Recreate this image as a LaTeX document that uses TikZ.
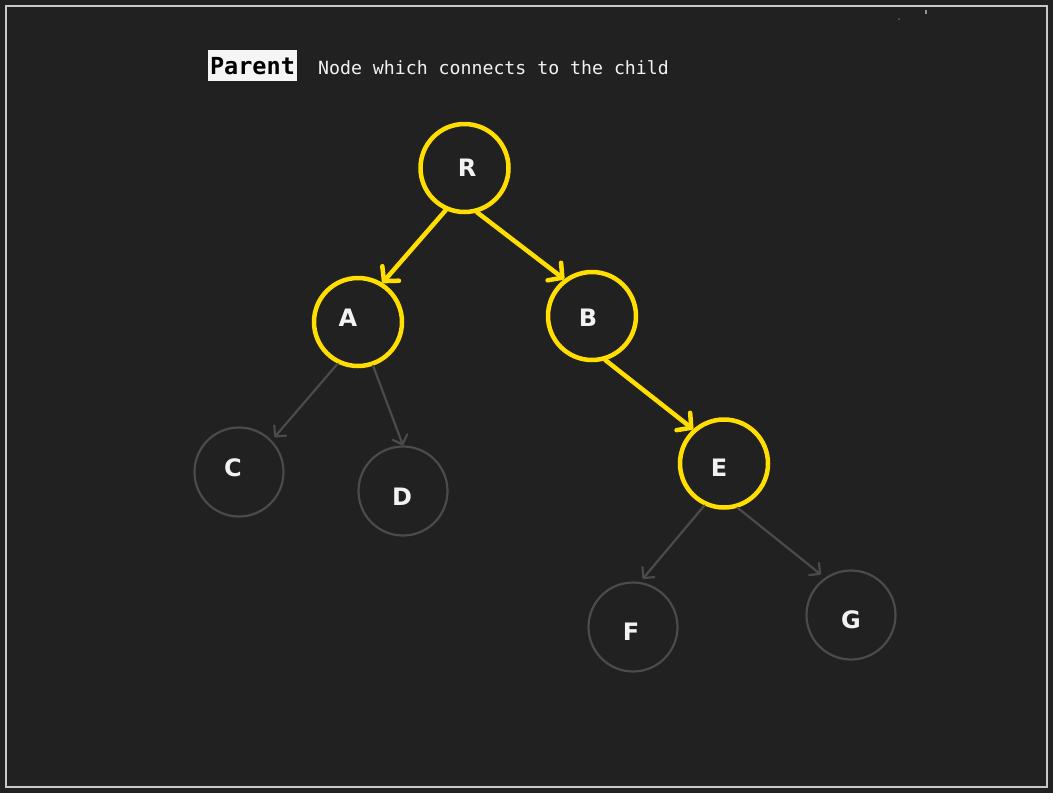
\documentclass[tikz,border=0pt]{standalone}
\usepackage{fontspec}
\newfontfamily\lblfont{DejaVu Sans}
\newfontfamily\monofont{DejaVu Sans Mono}
\usetikzlibrary{arrows.meta}
\definecolor{bgc}{HTML}{212121}
\definecolor{ylw}{HTML}{FFDE00}
\definecolor{gry}{HTML}{4B4B4B}
\definecolor{frm}{HTML}{C8C8C8}
\definecolor{txtc}{HTML}{F2F2F2}
\tikzset{
  hot/.style={circle, draw=ylw, line width=4.5pt, minimum size=88pt, inner sep=0pt},
  cold/.style={circle, draw=gry, line width=2.2pt, minimum size=89pt, inner sep=0pt},
  lbl/.style={text=txtc, font={\lblfont\bfseries\fontsize{24}{28}\selectfont}, inner sep=0pt},
  yarrow/.style={draw=ylw, line width=4.5pt, line cap=round, -{Straight Barb[angle=95:15pt,line cap=round,line join=round]}},
  garrow/.style={draw=gry, line width=2.2pt, line cap=round, -{Straight Barb[angle=90:11pt,line cap=round,line join=round]}},
}
\begin{document}
\begin{tikzpicture}[x=1pt,y=-1pt]
\fill[bgc] (0,0) rectangle (1053,793);
\useasboundingbox (0,0) rectangle (1053,793);
\draw[frm, line width=2pt] (6,6) rectangle (1047,787);
\fill[gry!60!white] (925,10) rectangle (927,14);
\fill[ylw] (899,19) circle (0.6pt);
% header
\node[fill=white!96!black, minimum width=89pt, minimum height=31pt, inner sep=0pt] (pbox) at (252.5,65.5) {};
\node[text=black, font=\monofont\bfseries\fontsize{23.5}{26}\selectfont, inner sep=0pt] (ptxt) at (252.5,66) {Parent};
\node[anchor=base west, text=txtc, font=\monofont\fontsize{18.2}{22}\selectfont, inner sep=0pt] (desc) at (318,74) {Node which connects to the child};
% circles
\node[hot] (R) at (464.5,168) {};
\node[hot] (A) at (358,322) {};
\node[hot] (B) at (592,316) {};
\node[hot] (E) at (724,463.5) {};
\node[cold] (C) at (239,472) {};
\node[cold] (D) at (403,491) {};
\node[cold] (F) at (633,627) {};
\node[cold] (G) at (851,615) {};
% labels
\node[lbl] (Rl) at (467,168) {R};
\node[lbl] (Al) at (348,318) {A};
\node[lbl] (Bl) at (588,318) {B};
\node[lbl] (El) at (719,468) {E};
\node[lbl] (Cl) at (233,468) {C};
\node[lbl] (Dl) at (402,497) {D};
\node[lbl] (Fl) at (631,632) {F};
\node[lbl] (Gl) at (851,620) {G};
% connectors
\draw[yarrow] (R.246) -- (A.58);
\draw[yarrow] (R.-74) -- (B.127);
\draw[yarrow] (B.-73) -- (E.132);
\draw[garrow, shorten >=4pt] (A.-116) -- (C.44);
\draw[garrow] (A.-71.6) -- (D.90);
\draw[garrow, shorten >=4pt] (E.-115) -- (F.81);
\draw[garrow, shorten >=5pt] (E.-73) -- (G.125);
\end{tikzpicture}
\end{document}
